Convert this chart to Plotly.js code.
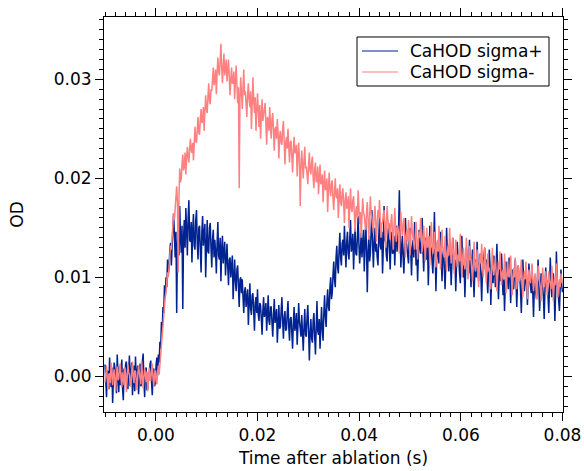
<!DOCTYPE html>
<html>
<head>
<meta charset="utf-8">
<script src="https://cdn.plot.ly/plotly-3.0.1.min.js"></script>
<style>html,body{margin:0;padding:0;background:#fff}#chart{width:584px;height:471px}</style>
</head>
<body>
<div id="chart"></div>
<script>
// Sampling of both traces (seconds)
const timeStart = -0.0100;
const timeStep = 0.00015;

const seriesNames = ["CaHOD sigma+", "CaHOD sigma-"];
const seriesColors = ["rgb(0,35,145)", "rgb(255,128,128)"];

// OD, sigma+ (navy)
const sigmaPlus = [
0.0012,-0.0008,-0.0021,0.0006,0.0004,-0.0013,0.0019,0.0001,-0.0011,0.0009,-0.0027,-0.0004,0.0014,0.0008,-0.0005,-0.0017,0.0022,0.0003,-0.0016,0.0010,
-0.0009,0.0005,0.0017,-0.0012,-0.0024,0.0008,-0.0002,0.0012,0.0015,-0.0006,-0.0013,0.0004,0.0021,-0.0010,0.0006,0.0014,-0.0019,-0.0003,0.0011,-0.0015,
0.0020,-0.0005,0.0002,0.0011,-0.0018,-0.0002,0.0013,-0.0010,-0.0007,0.0015,0.0023,-0.0004,-0.0021,0.0007,0.0009,-0.0014,-0.0012,0.0004,-0.0001,0.0012,
0.0016,-0.0006,-0.0019,0.0003,0.0008,-0.0010,-0.0006,0.0012,0.0019,0.0001,0.0022,0.0014,0.0035,0.0028,0.0055,0.0046,0.0070,0.0064,0.0092,0.0080,
0.0100,0.0090,0.0118,0.0104,0.0110,0.0128,0.0135,0.0112,0.0125,0.0150,0.0165,0.0138,0.0120,0.0146,0.0064,0.0132,0.0150,0.0122,0.0172,0.0140,
0.0125,0.0152,0.0068,0.0140,0.0158,0.0130,0.0170,0.0148,0.0122,0.0160,0.0178,0.0138,0.0136,0.0156,0.0115,0.0148,0.0164,0.0132,0.0128,0.0158,
0.0168,0.0134,0.0118,0.0150,0.0152,0.0128,0.0105,0.0146,0.0162,0.0132,0.0142,0.0154,0.0100,0.0138,0.0158,0.0126,0.0124,0.0150,0.0155,0.0130,
0.0110,0.0138,0.0148,0.0120,0.0138,0.0126,0.0104,0.0134,0.0156,0.0122,0.0118,0.0140,0.0096,0.0128,0.0142,0.0114,0.0128,0.0136,0.0102,0.0124,
0.0134,0.0110,0.0092,0.0118,0.0120,0.0100,0.0110,0.0122,0.0078,0.0106,0.0118,0.0096,0.0086,0.0108,0.0112,0.0090,0.0070,0.0098,0.0100,0.0084,
0.0098,0.0080,0.0064,0.0086,0.0090,0.0070,0.0076,0.0088,0.0052,0.0078,0.0094,0.0068,0.0062,0.0082,0.0084,0.0066,0.0046,0.0074,0.0080,0.0064,
0.0088,0.0062,0.0056,0.0074,0.0072,0.0058,0.0042,0.0066,0.0080,0.0060,0.0064,0.0074,0.0046,0.0062,0.0082,0.0056,0.0052,0.0070,0.0070,0.0054,
0.0040,0.0062,0.0078,0.0054,0.0062,0.0068,0.0034,0.0058,0.0072,0.0048,0.0050,0.0066,0.0080,0.0056,0.0038,0.0060,0.0066,0.0046,0.0048,0.0064,
0.0076,0.0050,0.0036,0.0058,0.0060,0.0044,0.0028,0.0054,0.0070,0.0046,0.0052,0.0064,0.0032,0.0050,0.0074,0.0056,0.0044,0.0040,0.0062,0.0048,
0.0026,0.0050,0.0068,0.0042,0.0040,0.0060,0.0072,0.0046,0.0016,0.0044,0.0058,0.0038,0.0034,0.0056,0.0064,0.0040,0.0022,0.0050,0.0076,0.0046,
0.0042,0.0058,0.0028,0.0050,0.0070,0.0046,0.0036,0.0064,0.0082,0.0060,0.0050,0.0074,0.0088,0.0070,0.0066,0.0090,0.0100,0.0078,0.0084,0.0102,
0.0116,0.0098,0.0090,0.0120,0.0132,0.0110,0.0104,0.0128,0.0145,0.0120,0.0112,0.0134,0.0138,0.0122,0.0152,0.0130,0.0110,0.0136,0.0146,0.0124,
0.0118,0.0140,0.0158,0.0126,0.0130,0.0144,0.0108,0.0132,0.0150,0.0124,0.0122,0.0140,0.0162,0.0134,0.0114,0.0128,0.0145,0.0120,0.0132,0.0148,
0.0106,0.0130,0.0156,0.0128,0.0085,0.0124,0.0142,0.0116,0.0124,0.0146,0.0168,0.0132,0.0110,0.0136,0.0150,0.0126,0.0134,0.0120,0.0112,0.0140,
0.0160,0.0132,0.0128,0.0146,0.0104,0.0130,0.0172,0.0138,0.0136,0.0122,0.0116,0.0140,0.0155,0.0130,0.0108,0.0134,0.0146,0.0124,0.0125,0.0142,
0.0112,0.0136,0.0152,0.0126,0.0135,0.0148,0.0188,0.0134,0.0110,0.0128,0.0142,0.0120,0.0104,0.0132,0.0160,0.0138,0.0128,0.0116,0.0114,0.0140,
0.0150,0.0126,0.0102,0.0130,0.0138,0.0120,0.0156,0.0134,0.0112,0.0128,0.0096,0.0122,0.0148,0.0130,0.0124,0.0138,0.0160,0.0126,0.0106,0.0132,
0.0140,0.0122,0.0118,0.0134,0.0092,0.0120,0.0152,0.0128,0.0130,0.0116,0.0104,0.0126,0.0166,0.0130,0.0086,0.0118,0.0136,0.0124,0.0114,0.0132,
0.0146,0.0120,0.0096,0.0122,0.0128,0.0110,0.0088,0.0116,0.0150,0.0124,0.0116,0.0106,0.0134,0.0120,0.0092,0.0114,0.0140,0.0126,0.0108,0.0118,
0.0086,0.0112,0.0136,0.0118,0.0120,0.0104,0.0094,0.0122,0.0142,0.0116,0.0100,0.0112,0.0080,0.0108,0.0130,0.0120,0.0112,0.0104,0.0138,0.0116,
0.0090,0.0112,0.0128,0.0104,0.0080,0.0106,0.0118,0.0100,0.0136,0.0114,0.0096,0.0110,0.0124,0.0102,0.0076,0.0104,0.0112,0.0120,0.0130,0.0108,
0.0118,0.0100,0.0084,0.0106,0.0128,0.0110,0.0072,0.0098,0.0108,0.0094,0.0122,0.0106,0.0090,0.0112,0.0134,0.0104,0.0078,0.0100,0.0112,0.0096,
0.0124,0.0104,0.0082,0.0098,0.0066,0.0094,0.0116,0.0102,0.0098,0.0088,0.0120,0.0106,0.0074,0.0096,0.0108,0.0092,0.0088,0.0104,0.0118,0.0098,
0.0070,0.0094,0.0112,0.0098,0.0100,0.0086,0.0064,0.0090,0.0118,0.0100,0.0086,0.0096,0.0108,0.0092,0.0072,0.0094,0.0114,0.0098,0.0092,0.0084,
0.0112,0.0094,0.0060,0.0088,0.0100,0.0084,0.0078,0.0096,0.0118,0.0092,0.0066,0.0086,0.0104,0.0094,0.0090,0.0080,0.0058,0.0088,0.0110,0.0096,
0.0096,0.0082,0.0064,0.0092,0.0120,0.0094,0.0080,0.0088,0.0104,0.0090,0.0056,0.0084,0.0126,0.0098,0.0088,0.0076,0.0066,0.0090,0.0108,0.0092,
0.0085
];

// OD, sigma- (salmon)
const sigmaMinus = [
-0.0006,0.0004,0.0011,-0.0003,-0.0013,0.0002,0.0003,-0.0007,0.0014,0.0005,-0.0009,0.0001,0.0007,-0.0005,-0.0015,0.0003,0.0010,-0.0004,-0.0002,0.0008,
0.0013,-0.0002,-0.0011,0.0004,-0.0004,-0.0009,0.0009,0.0002,-0.0016,-0.0003,0.0012,0.0004,0.0002,-0.0006,-0.0010,0.0005,0.0015,0.0000,-0.0007,0.0006,
0.0005,-0.0005,-0.0014,0.0002,0.0011,0.0004,-0.0003,-0.0008,0.0016,0.0003,-0.0012,-0.0001,0.0008,0.0002,-0.0006,0.0005,-0.0015,-0.0002,0.0009,-0.0004,
-0.0004,0.0006,0.0013,-0.0002,-0.0010,0.0003,0.0006,-0.0005,-0.0008,0.0004,0.0011,0.0002,0.0013,0.0022,0.0035,0.0040,0.0050,0.0062,0.0075,0.0080,
0.0085,0.0098,0.0105,0.0100,0.0112,0.0124,0.0132,0.0128,0.0140,0.0152,0.0165,0.0158,0.0170,0.0182,0.0192,0.0176,0.0105,0.0180,0.0210,0.0196,
0.0200,0.0214,0.0224,0.0208,0.0212,0.0226,0.0204,0.0220,0.0232,0.0222,0.0216,0.0230,0.0240,0.0228,0.0226,0.0236,0.0218,0.0234,0.0252,0.0238,
0.0236,0.0250,0.0262,0.0246,0.0244,0.0260,0.0270,0.0256,0.0258,0.0272,0.0248,0.0268,0.0284,0.0270,0.0266,0.0282,0.0296,0.0278,0.0275,0.0290,
0.0288,0.0300,0.0312,0.0294,0.0298,0.0310,0.0285,0.0306,0.0322,0.0308,0.0304,0.0318,0.0336,0.0312,0.0296,0.0314,0.0326,0.0304,0.0310,0.0320,
0.0298,0.0310,0.0320,0.0302,0.0284,0.0300,0.0312,0.0296,0.0296,0.0308,0.0280,0.0298,0.0314,0.0294,0.0276,0.0292,0.0190,0.0280,0.0302,0.0286,
0.0270,0.0292,0.0310,0.0284,0.0288,0.0276,0.0262,0.0284,0.0296,0.0280,0.0272,0.0288,0.0250,0.0274,0.0302,0.0278,0.0266,0.0282,0.0248,0.0270,
0.0286,0.0268,0.0252,0.0274,0.0240,0.0262,0.0280,0.0258,0.0262,0.0270,0.0276,0.0256,0.0234,0.0262,0.0258,0.0248,0.0272,0.0254,0.0240,0.0260,
0.0266,0.0248,0.0228,0.0250,0.0252,0.0240,0.0260,0.0246,0.0220,0.0242,0.0248,0.0236,0.0234,0.0250,0.0258,0.0238,0.0214,0.0236,0.0242,0.0230,
0.0250,0.0232,0.0216,0.0236,0.0238,0.0222,0.0206,0.0228,0.0242,0.0226,0.0226,0.0234,0.0202,0.0222,0.0236,0.0220,0.0172,0.0210,0.0228,0.0214,
0.0200,0.0218,0.0232,0.0210,0.0212,0.0204,0.0194,0.0214,0.0226,0.0208,0.0204,0.0216,0.0222,0.0200,0.0190,0.0210,0.0216,0.0196,0.0198,0.0212,
0.0184,0.0200,0.0214,0.0194,0.0196,0.0204,0.0176,0.0194,0.0208,0.0188,0.0190,0.0200,0.0166,0.0188,0.0206,0.0190,0.0182,0.0194,0.0198,0.0180,
0.0168,0.0186,0.0200,0.0182,0.0180,0.0190,0.0160,0.0180,0.0194,0.0176,0.0172,0.0186,0.0190,0.0174,0.0155,0.0178,0.0186,0.0170,0.0170,0.0182,
0.0150,0.0172,0.0190,0.0170,0.0166,0.0178,0.0182,0.0164,0.0146,0.0168,0.0172,0.0160,0.0188,0.0170,0.0154,0.0166,0.0140,0.0162,0.0180,0.0166,
0.0162,0.0154,0.0148,0.0166,0.0176,0.0158,0.0138,0.0160,0.0182,0.0164,0.0160,0.0152,0.0145,0.0162,0.0172,0.0156,0.0136,0.0154,0.0168,0.0160,
0.0178,0.0158,0.0140,0.0154,0.0156,0.0164,0.0168,0.0150,0.0130,0.0152,0.0172,0.0158,0.0150,0.0144,0.0138,0.0156,0.0164,0.0148,0.0128,0.0150,
0.0170,0.0152,0.0136,0.0150,0.0152,0.0144,0.0124,0.0146,0.0166,0.0150,0.0142,0.0154,0.0160,0.0140,0.0120,0.0142,0.0148,0.0136,0.0158,0.0144,
0.0122,0.0142,0.0162,0.0146,0.0140,0.0134,0.0128,0.0144,0.0156,0.0138,0.0118,0.0136,0.0146,0.0140,0.0160,0.0142,0.0126,0.0138,0.0152,0.0136,
0.0116,0.0136,0.0150,0.0130,0.0134,0.0142,0.0112,0.0132,0.0156,0.0136,0.0124,0.0130,0.0146,0.0128,0.0110,0.0130,0.0138,0.0126,0.0152,0.0132,
0.0108,0.0128,0.0148,0.0130,0.0126,0.0120,0.0142,0.0126,0.0106,0.0124,0.0132,0.0122,0.0150,0.0130,0.0114,0.0126,0.0140,0.0122,0.0104,0.0124,
0.0138,0.0120,0.0110,0.0122,0.0124,0.0116,0.0144,0.0122,0.0100,0.0118,0.0130,0.0120,0.0108,0.0116,0.0140,0.0120,0.0098,0.0114,0.0132,0.0118,
0.0118,0.0108,0.0096,0.0114,0.0136,0.0116,0.0106,0.0112,0.0128,0.0110,0.0090,0.0110,0.0124,0.0114,0.0134,0.0116,0.0100,0.0110,0.0130,0.0112,
0.0094,0.0110,0.0124,0.0106,0.0110,0.0100,0.0088,0.0106,0.0130,0.0110,0.0102,0.0112,0.0120,0.0104,0.0086,0.0102,0.0116,0.0108,0.0126,0.0106,
0.0092,0.0104,0.0108,0.0098,0.0124,0.0106,0.0084,0.0100,0.0116,0.0104,0.0100,0.0108,0.0122,0.0102,0.0082,0.0098,0.0110,0.0100,0.0120,0.0104,
0.0088,0.0102,0.0112,0.0096,0.0098,0.0106,0.0118,0.0100,0.0080,0.0096,0.0106,0.0098,0.0116,0.0100,0.0078,0.0094,0.0108,0.0098,0.0094,0.0102,
0.0114,0.0098,0.0086,0.0096,0.0104,0.0094,0.0078,0.0094,0.0112,0.0100,0.0096,0.0090,0.0076,0.0092,0.0110,0.0098,0.0090,0.0096,0.0106,0.0094,
0.0082,0.0094,0.0106,0.0096,0.0094,0.0088,0.0112,0.0098,0.0076,0.0092,0.0100,0.0092,0.0114,0.0098,0.0080,0.0094,0.0098,0.0090,0.0104,0.0096,
0.0094
];

const xTickVals = [0, 0.02, 0.04, 0.06, 0.08];
const yTickVals = [0, 0.01, 0.02, 0.03];

const font = "DejaVu Sans, Verdana, sans-serif";
const fs = 17;

const traces = [
  {type: "scatter", mode: "lines", name: seriesNames[0], y: sigmaPlus, x0: timeStart, dx: timeStep,
   line: {color: seriesColors[0], width: 1.5}},
  {type: "scatter", mode: "lines", name: seriesNames[1], y: sigmaMinus, x0: timeStart, dx: timeStep,
   line: {color: seriesColors[1], width: 1.5}}
];

const axisCommon = {
  showline: true, linecolor: "#000", linewidth: 1, mirror: "ticks",
  ticks: "outside", ticklen: 8, tickwidth: 1, tickcolor: "#000",
  showgrid: false, zeroline: false,
  tickfont: {family: font, size: fs, color: "#000"},
  tickformat: ".2f"
};

// Legend box (paper coordinates)
const legBox = {x0: 0.5512, x1: 0.9695, y0: 0.8253, y1: 0.9494};
const legRows = [0.9139, 0.8608];
const legLineX = [0.5621, 0.6405];
const legTextX = 0.6623;

const shapes = [
  {type: "rect", xref: "paper", yref: "paper", x0: legBox.x0, x1: legBox.x1, y0: legBox.y0, y1: legBox.y1,
   line: {color: "#000", width: 1}, fillcolor: "#fff", layer: "above"}
];
const annotations = [];
seriesNames.forEach((name, i) => {
  shapes.push({type: "line", xref: "paper", yref: "paper", x0: legLineX[0], x1: legLineX[1],
               y0: legRows[i], y1: legRows[i], line: {color: seriesColors[i], width: 1.2}, layer: "above"});
  annotations.push({xref: "paper", yref: "paper", x: legTextX, y: legRows[i], xanchor: "left", yanchor: "middle",
                    text: name, showarrow: false, font: {family: font, size: fs, color: "#000"}});
});

const layout = {
  width: 584, height: 471,
  margin: {l: 104, r: 21, t: 17, b: 59},
  paper_bgcolor: "#fff", plot_bgcolor: "#fff",
  font: {family: font, size: fs, color: "#000"},
  showlegend: false,
  shapes: shapes,
  annotations: annotations,
  xaxis: Object.assign({}, axisCommon, {
    range: [-0.0102, 0.0801], tickmode: "array", tickvals: xTickVals,
    minor: {dtick: 0.002, tick0: 0, ticks: "outside", ticklen: 4, tickcolor: "#000", showgrid: false},
    title: {text: "Time after ablation (s)", font: {family: font, size: fs, color: "#000"}, standoff: 7}
  }),
  yaxis: Object.assign({}, axisCommon, {
    range: [-0.0036, 0.0363], tickmode: "array", tickvals: yTickVals,
    minor: {dtick: 0.001, tick0: 0, ticks: "outside", ticklen: 4, tickcolor: "#000", showgrid: false},
    title: {text: "OD", font: {family: font, size: fs, color: "#000"}, standoff: 25}
  })
};

Plotly.newPlot("chart", traces, layout, {staticPlot: true, displayModeBar: false});
</script>
</body>
</html>
